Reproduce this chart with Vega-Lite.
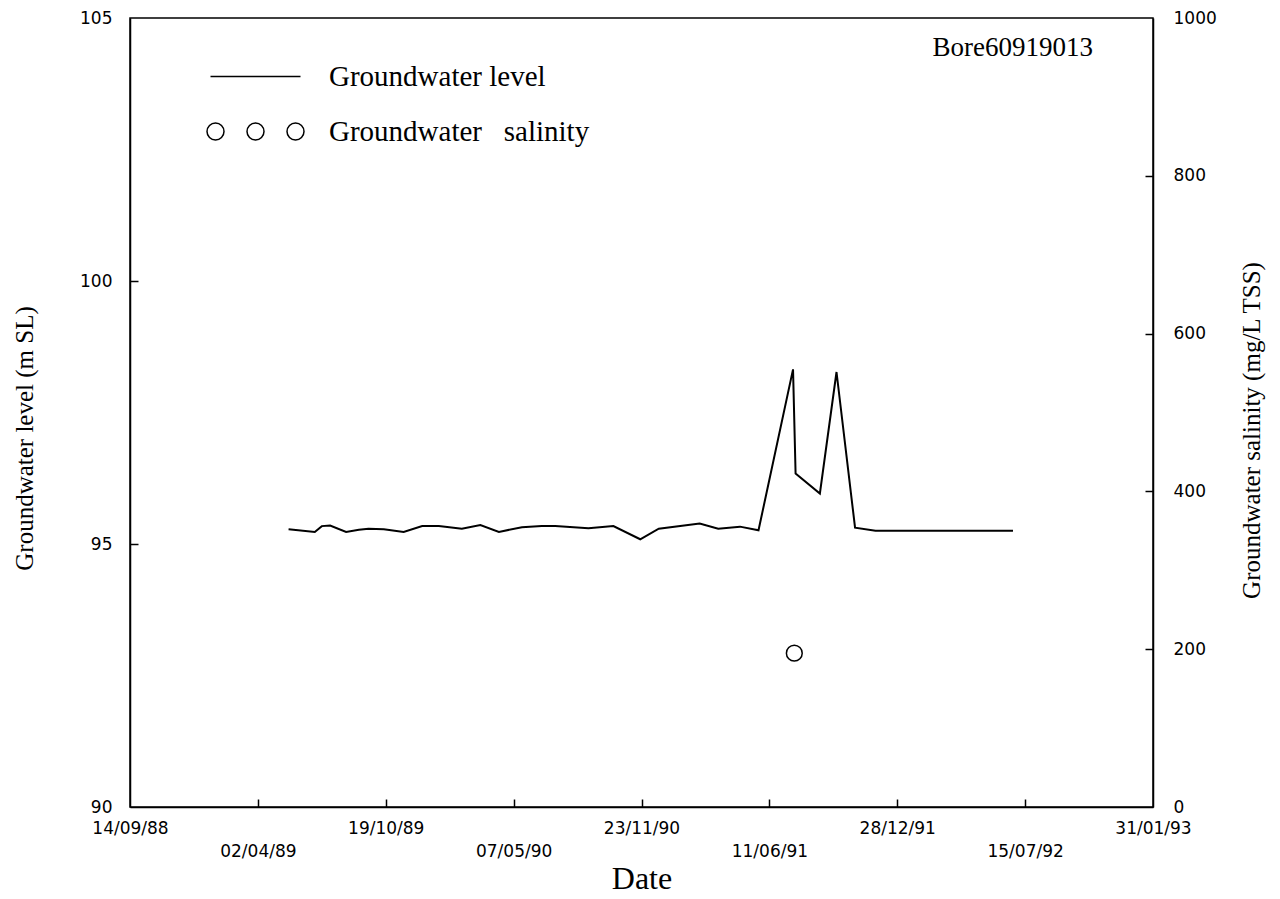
{
  "$schema": "https://vega.github.io/schema/vega-lite/v6.json",
  "width": 1023,
  "height": 789,
  "autosize": {"type": "none"},
  "padding": {"left": 130, "top": 18, "right": 127, "bottom": 92},
  "background": "white",
  "title": {
    "text": "Bore60919013",
    "anchor": "end",
    "orient": "top",
    "frame": "group",
    "offset": -66,
    "dx": -60,
    "baseline": "middle",
    "font": "Liberation Serif",
    "fontSize": 27,
    "fontWeight": "normal",
    "color": "black"
  },
  "datasets": {
    "level": [
      {"date": "1989-05-20", "level": 95.28, "series": "Groundwater level"},
      {"date": "1989-06-30", "level": 95.23, "series": "Groundwater level"},
      {"date": "1989-07-11", "level": 95.34, "series": "Groundwater level"},
      {"date": "1989-07-24", "level": 95.35, "series": "Groundwater level"},
      {"date": "1989-08-18", "level": 95.23, "series": "Groundwater level"},
      {"date": "1989-09-07", "level": 95.27, "series": "Groundwater level"},
      {"date": "1989-09-22", "level": 95.29, "series": "Groundwater level"},
      {"date": "1989-10-16", "level": 95.28, "series": "Groundwater level"},
      {"date": "1989-11-16", "level": 95.23, "series": "Groundwater level"},
      {"date": "1989-12-15", "level": 95.34, "series": "Groundwater level"},
      {"date": "1990-01-10", "level": 95.34, "series": "Groundwater level"},
      {"date": "1990-02-15", "level": 95.29, "series": "Groundwater level"},
      {"date": "1990-03-16", "level": 95.36, "series": "Groundwater level"},
      {"date": "1990-04-14", "level": 95.23, "series": "Groundwater level"},
      {"date": "1990-05-20", "level": 95.32, "series": "Groundwater level"},
      {"date": "1990-06-20", "level": 95.34, "series": "Groundwater level"},
      {"date": "1990-07-11", "level": 95.34, "series": "Groundwater level"},
      {"date": "1990-09-01", "level": 95.30, "series": "Groundwater level"},
      {"date": "1990-10-10", "level": 95.34, "series": "Groundwater level"},
      {"date": "1990-11-21", "level": 95.09, "series": "Groundwater level"},
      {"date": "1990-12-20", "level": 95.29, "series": "Groundwater level"},
      {"date": "1991-02-22", "level": 95.39, "series": "Groundwater level"},
      {"date": "1991-03-23", "level": 95.29, "series": "Groundwater level"},
      {"date": "1991-04-26", "level": 95.33, "series": "Groundwater level"},
      {"date": "1991-05-25", "level": 95.26, "series": "Groundwater level"},
      {"date": "1991-07-18", "level": 98.32, "series": "Groundwater level"},
      {"date": "1991-07-22", "level": 96.34, "series": "Groundwater level"},
      {"date": "1991-08-29", "level": 95.96, "series": "Groundwater level"},
      {"date": "1991-09-24", "level": 98.27, "series": "Groundwater level"},
      {"date": "1991-10-23", "level": 95.31, "series": "Groundwater level"},
      {"date": "1991-11-24", "level": 95.25, "series": "Groundwater level"},
      {"date": "1992-03-01", "level": 95.25, "series": "Groundwater level"},
      {"date": "1992-06-26", "level": 95.25, "series": "Groundwater level"}
    ],
    "salinity": [
      {"date": "1991-07-20", "salinity": 195, "series": "Groundwater\u00a0\u00a0 salinity"}
    ]
  },
  "layer": [
    {
      "data": {"name": "level"},
      "mark": {"type": "line", "strokeWidth": 2, "color": "black", "clip": true},
      "encoding": {
        "x": {
          "field": "date",
          "type": "temporal",
          "scale": {
            "type": "utc",
            "nice": false,
            "domain": [
              {"year": 1988, "month": 9, "date": 14, "utc": true},
              {"year": 1993, "month": 1, "date": 31, "utc": true}
            ]
          },
          "axis": {
            "orient": "bottom",
            "title": null,
            "values": [
              {"year": 1988, "month": 9, "date": 14, "utc": true},
              {"year": 1989, "month": 10, "date": 19, "utc": true},
              {"year": 1990, "month": 11, "date": 23, "utc": true},
              {"year": 1991, "month": 12, "date": 28, "utc": true},
              {"year": 1993, "month": 1, "date": 31, "utc": true}
            ],
            "labelExpr": "utcFormat(datum.value, '%d/%m/%y')",
            "labelOverlap": false,
            "labelFlush": false,
            "labelBaseline": "top",
            "ticks": false,
            "tickSize": 0,
            "labelPadding": 13
          }
        },
        "y": {
          "field": "level",
          "type": "quantitative",
          "title": "Groundwater level (m SL)",
          "scale": {"domain": [90, 105], "nice": false, "zero": false},
          "axis": {
            "orient": "left",
            "values": [90, 95, 100, 105],
            "format": "d",
            "ticks": false,
            "tickSize": 0,
            "labelPadding": 18,
            "titlePadding": 42,
            "titleY": 420
          }
        },
        "color": {
          "field": "series",
          "type": "nominal",
          "scale": {
            "domain": ["Groundwater level", "Groundwater\u00a0\u00a0 salinity"],
            "range": ["black", "black"]
          },
          "legend": {
            "orient": "none",
            "legendX": 111,
            "legendY": 44,
            "title": null,
            "padding": 0,
            "symbolSize": 100,
            "labelFont": "Liberation Serif",
            "labelFontSize": 29,
            "labelColor": "black",
            "labelOffset": 59,
            "labelLimit": 600,
            "rowPadding": 25,
            "encode": {
              "symbols": {
                "update": {
                  "shape": {"signal": "datum.value == 'Groundwater level' ? 'M-9,0L9,0' : 'M-6.3,0A1.7,1.7 0 1,1 -9.7,0A1.7,1.7 0 1,1 -6.3,0M1.7,0A1.7,1.7 0 1,1 -1.7,0A1.7,1.7 0 1,1 1.7,0M9.7,0A1.7,1.7 0 1,1 6.3,0A1.7,1.7 0 1,1 9.7,0'"},
                  "stroke": {"value": "black"},
                  "fill": {"value": "transparent"},
                  "strokeWidth": {"value": 1.5},
                  "opacity": {"value": 1}
                }
              }
            }
          }
        }
      }
    },
    {
      "data": {"name": "salinity"},
      "mark": {"type": "point", "shape": "circle", "filled": false, "size": 250, "strokeWidth": 1.5, "opacity": 1},
      "encoding": {
        "x": {"field": "date", "type": "temporal", "axis": null},
        "y": {
          "field": "salinity",
          "type": "quantitative",
          "title": "Groundwater salinity (mg/L TSS)",
          "scale": {"domain": [0, 1000], "nice": false},
          "axis": {
            "orient": "right",
            "values": [0, 200, 400, 600, 800, 1000],
            "format": "d",
            "ticks": false,
            "tickSize": 0,
            "labelPadding": 20,
            "titlePadding": 48,
            "titleAngle": 270,
            "titleY": 412
          }
        },
        "color": {"field": "series", "type": "nominal"}
      }
    },
    {
      "data": {"name": "level"},
      "mark": {"type": "point", "opacity": 0},
      "encoding": {
        "x": {
          "field": "date",
          "type": "temporal",
          "axis": {
            "orient": "bottom",
            "title": "Date",
            "titleFontSize": 32,
            "titlePadding": 4,
            "values": [
              {"year": 1989, "month": 4, "date": 2, "utc": true},
              {"year": 1990, "month": 5, "date": 7, "utc": true},
              {"year": 1991, "month": 6, "date": 11, "utc": true},
              {"year": 1992, "month": 7, "date": 15, "utc": true}
            ],
            "labelExpr": "utcFormat(datum.value, '%d/%m/%y')",
            "labelOverlap": false,
            "labelFlush": false,
            "labelBaseline": "top",
            "domain": false,
            "ticks": false,
            "tickSize": 0,
            "labelPadding": 36
          }
        },
        "y": {
          "field": "level",
          "type": "quantitative",
          "scale": {"domain": [90, 105], "nice": false, "zero": false},
          "axis": null
        }
      }
    },
    {
      "data": {"name": "level"},
      "mark": {"type": "point", "opacity": 0},
      "encoding": {
        "x": {
          "field": "date",
          "type": "temporal",
          "axis": {
            "orient": "bottom",
            "title": null,
            "values": [
              {"year": 1989, "month": 4, "date": 2, "utc": true},
              {"year": 1989, "month": 10, "date": 19, "utc": true},
              {"year": 1990, "month": 5, "date": 7, "utc": true},
              {"year": 1990, "month": 11, "date": 23, "utc": true},
              {"year": 1991, "month": 6, "date": 11, "utc": true},
              {"year": 1991, "month": 12, "date": 28, "utc": true},
              {"year": 1992, "month": 7, "date": 15, "utc": true}
            ],
            "labels": false,
            "domain": false,
            "ticks": true,
            "tickSize": 8,
            "offset": -8
          }
        },
        "y": {
          "field": "level",
          "type": "quantitative",
          "scale": {"domain": [90, 105], "nice": false, "zero": false},
          "axis": {
            "orient": "left",
            "title": null,
            "values": [95, 100],
            "labels": false,
            "domain": false,
            "ticks": true,
            "tickSize": 8,
            "offset": -8
          }
        }
      }
    },
    {
      "data": {"name": "salinity"},
      "mark": {"type": "point", "opacity": 0},
      "encoding": {
        "x": {"field": "date", "type": "temporal", "axis": null},
        "y": {
          "field": "salinity",
          "type": "quantitative",
          "scale": {"domain": [0, 1000], "nice": false},
          "axis": {
            "orient": "right",
            "title": null,
            "values": [200, 400, 600, 800],
            "labels": false,
            "domain": false,
            "ticks": true,
            "tickSize": 8,
            "offset": -8
          }
        }
      }
    }
  ],
  "resolve": {
    "scale": {"y": "independent"},
    "axis": {"x": "independent", "y": "independent"}
  },
  "config": {
    "view": {"stroke": "black", "strokeWidth": 1.5},
    "axis": {
      "domainColor": "black",
      "domainWidth": 1.5,
      "tickColor": "black",
      "tickWidth": 1.5,
      "grid": false,
      "labelFont": "DejaVu Sans",
      "labelFontSize": 17,
      "labelColor": "black",
      "titleFont": "Liberation Serif",
      "titleFontSize": 25,
      "titleFontWeight": "normal",
      "titleColor": "black"
    }
  }
}
